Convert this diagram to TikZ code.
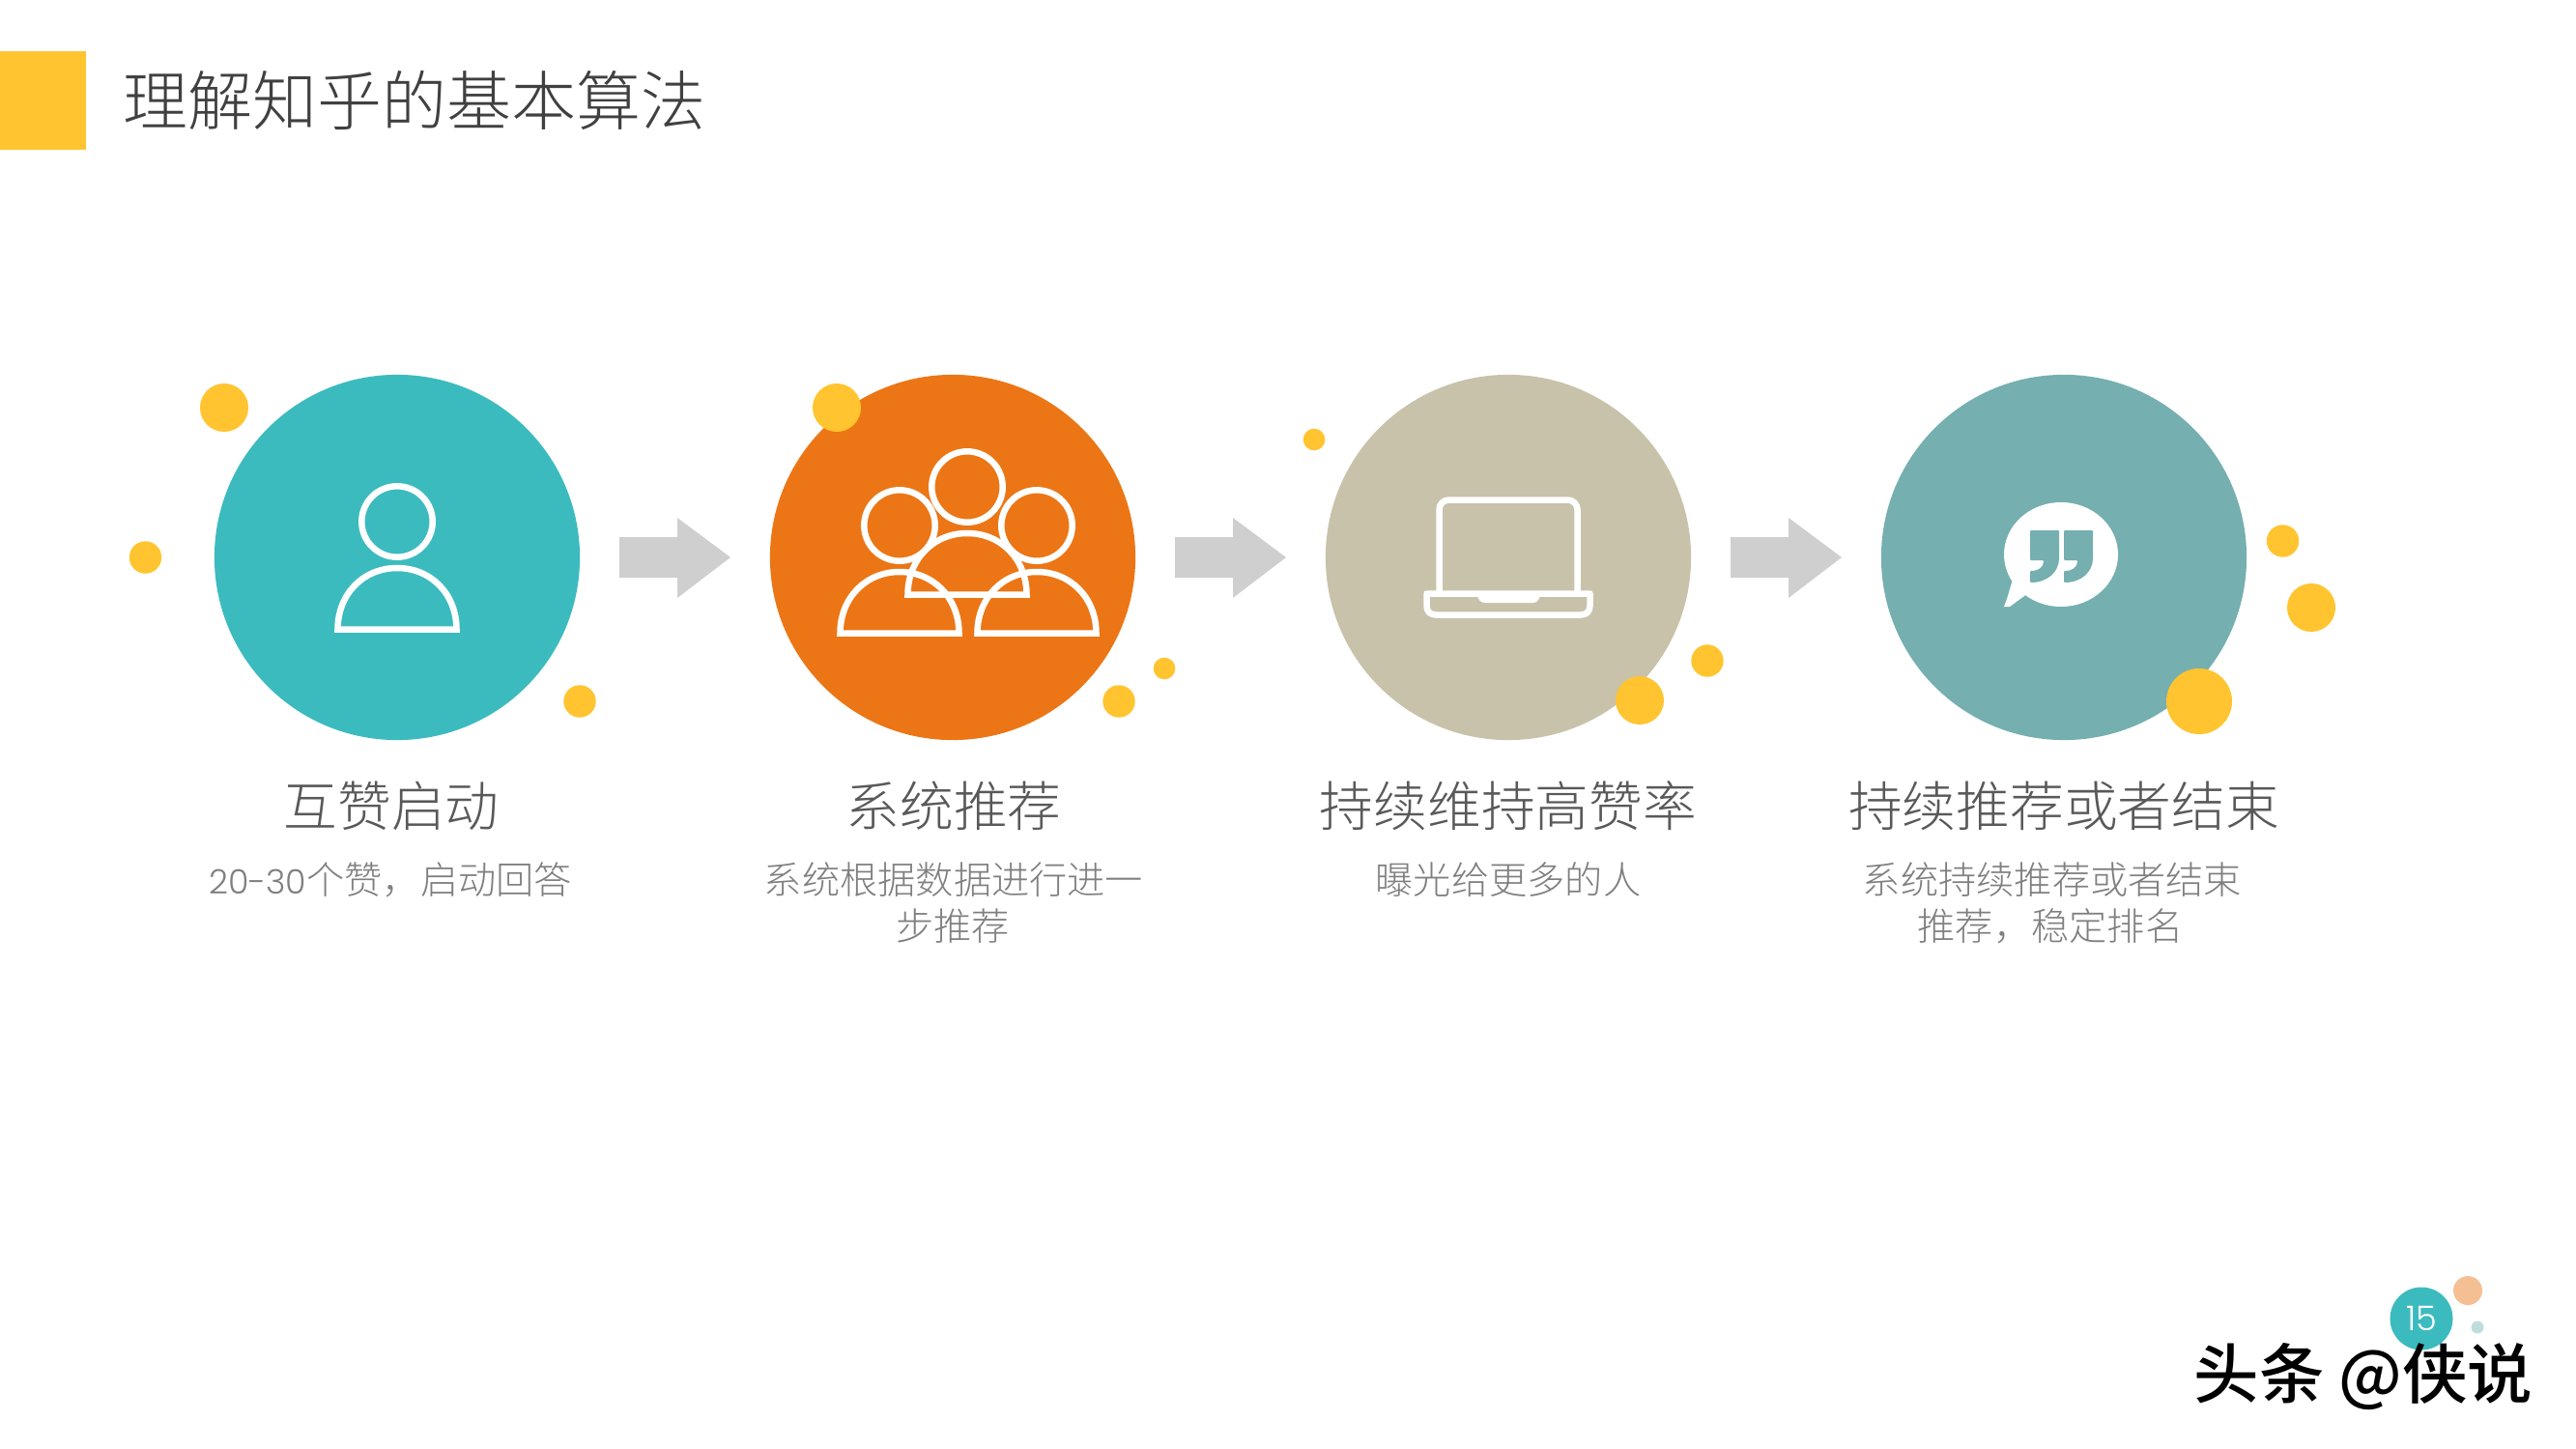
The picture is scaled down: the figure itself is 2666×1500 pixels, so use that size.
\documentclass[tikz,border=0pt]{standalone}
\usepackage{fontspec}
\setmainfont{Noto Sans CJK SC}[UprightFont=* Light,BoldFont=* Medium]
\newfontfamily\latinlight{Poppins Light}
\usetikzlibrary{calc}
\definecolor{ykey}{HTML}{FFC42F}
\definecolor{cteal}{HTML}{3CBBBF}
\definecolor{corange}{HTML}{EC7615}
\definecolor{cbeige}{HTML}{C8C2AA}
\definecolor{cslate}{HTML}{75AFB0}
\definecolor{carrow}{HTML}{CFCFCF}
\definecolor{ctitle}{HTML}{404040}
\definecolor{chead}{HTML}{595959}
\definecolor{csub}{HTML}{7F7F7F}
\definecolor{cpeach}{HTML}{F5BF94}
\definecolor{cpale}{HTML}{BFDDDD}
\tikzset{
  x=0.01cm,y=-0.01cm,
  bigdisc/.style={circle,inner sep=0pt,minimum size=3.78cm},
  dotA/.style={fill=ykey},
  iconline/.style={draw=white,line width=0.065cm,line join=miter},
  titletext/.style={anchor=base,inner sep=0pt,text=ctitle,font=\fontsize{19.05pt}{22pt}\selectfont},
  headtext/.style={anchor=base,inner sep=0pt,text=chead,font=\fontsize{15.85pt}{19pt}\selectfont},
  subtext/.style={anchor=base,inner sep=0pt,text=csub,font=\fontsize{11.15pt}{14pt}\selectfont},
  dome/.pic={\draw[iconline] (-61.5,-3.5) .. controls (-61.5,-40) and (-35,-67) .. (0,-67) .. controls (35,-67) and (61.5,-40) .. (61.5,-3.5) -- cycle;},
  flow/.pic={\fill[carrow] (0,-21) -- (60,-21) -- (60,-41) -- (115,0) -- (60,42) -- (60,21) -- (0,21) -- cycle;}
}
\begin{document}
\begin{tikzpicture}
\useasboundingbox (0,0) rectangle (2666,1500);
% header
\fill[ykey] (0,53) rectangle (89,155);
\node[titletext] (title) at (429,130) {理解知乎的基本算法};
% main discs
\node[bigdisc,fill=cteal] (c1) at (411,577) {};
\node[bigdisc,fill=corange] (c2) at (986,577) {};
\node[bigdisc,fill=cbeige] (c3) at (1561,577) {};
\node[bigdisc,fill=cslate] (c4) at (2136,577) {};
% arrows
\pic at (641,577) {flow};
\pic at (1216,577) {flow};
\pic at (1791,577) {flow};
% dots
\fill[dotA] (232,422) circle (25);
\fill[dotA] (150.5,577) circle (16.7);
\fill[dotA] (600,726) circle (16.7);
\fill[dotA] (866,422) circle (25);
\fill[dotA] (1158,726) circle (16.7);
\fill[dotA] (1205,692) circle (11.3);
\fill[dotA] (1360,455) circle (11.3);
\fill[dotA] (1697,725) circle (25);
\fill[dotA] (1767,684) circle (16.7);
\fill[dotA] (2276,726) circle (34);
\fill[dotA] (2362.5,560) circle (16.7);
\fill[dotA] (2392,629) circle (25);
% person
\draw[iconline] (411,540) circle (36.7);
\pic at (411,655) {dome};
% group
\draw[iconline] (1001,504) circle (36.7);
\draw[iconline] (931,544) circle (36.7);
\draw[iconline] (1073,544) circle (36.7);
\pic at (1001,619) {dome};
\pic at (931,659) {dome};
\pic at (1073,659) {dome};
% laptop
\draw[iconline,rounded corners=0.1cm] (1489.5,612) -- (1489.5,517.5) -- (1632.5,517.5) -- (1632.5,612);
\draw[iconline,line join=round] (1476.5,614.5) -- (1645.5,614.5) -- (1645.5,627) .. controls (1645.5,633) and (1642,636.5) .. (1636,636.5) -- (1486,636.5) .. controls (1480,636.5) and (1476.5,633) .. (1476.5,627) -- cycle;
\fill[white] (1529,616) -- (1594,616) .. controls (1593,621) and (1591,624) .. (1586,624) -- (1537,624) .. controls (1532,624) and (1530,621) .. (1529,616) -- cycle;
% speech bubble
\fill[white] (2133,574) ellipse [x radius=59,y radius=54];
\fill[white] (2083,600) -- (2077,620) -- (2074,628) -- (2080,628) -- (2099,614) -- cycle;
\foreach \qx in {2101,2136}{
  \fill[cslate,rounded corners=0.01cm] (\qx,549) -- (\qx+30,549) -- (\qx+30,577) .. controls (\qx+30,592) and (\qx+18,603) .. (\qx,603) -- (\qx,591) .. controls (\qx+9,591) and (\qx+14,587) .. (\qx+14,580) -- (\qx,580) -- cycle;
}
% headings
\node[headtext] (h1) at (405,855) {互赞启动};
\node[headtext] (h2) at (987,855) {系统推荐};
\node[headtext] (h3) at (1561,855) {持续维持高赞率};
\node[headtext] (h4) at (2136,855) {持续推荐或者结束};
% descriptions
\node[subtext] (s1) at (404,925) {{\latinlight\fontsize{9.9pt}{14pt}\selectfont 20-30}个赞，启动回答};
\node[subtext] (s2) at (987,925) {系统根据数据进行进一};
\node[subtext] (s2b) at (986,973) {步推荐};
\node[subtext] (s3) at (1561,925) {曝光给更多的人};
\node[subtext] (s4) at (2124,925) {系统持续推荐或者结束};
\node[subtext] (s4b) at (2122,973) {推荐，稳定排名};
% page badge
\fill[cteal] (2506,1365) circle (32.5);
\fill[cpeach] (2554,1336) circle (15);
\fill[cpale] (2564,1374) circle (6.5);
\node[anchor=base,inner sep=0pt,text=white,font=\latinlight\fontsize{10pt}{12pt}\selectfont] (pg) at (2506,1377) {15};
% watermark
\node[anchor=base,inner sep=0pt,text=black,font=\bfseries\fontsize{19.2pt}{22pt}\selectfont] (wm) at (2446,1447) {头条 @侠说};
\end{tikzpicture}
\end{document}
